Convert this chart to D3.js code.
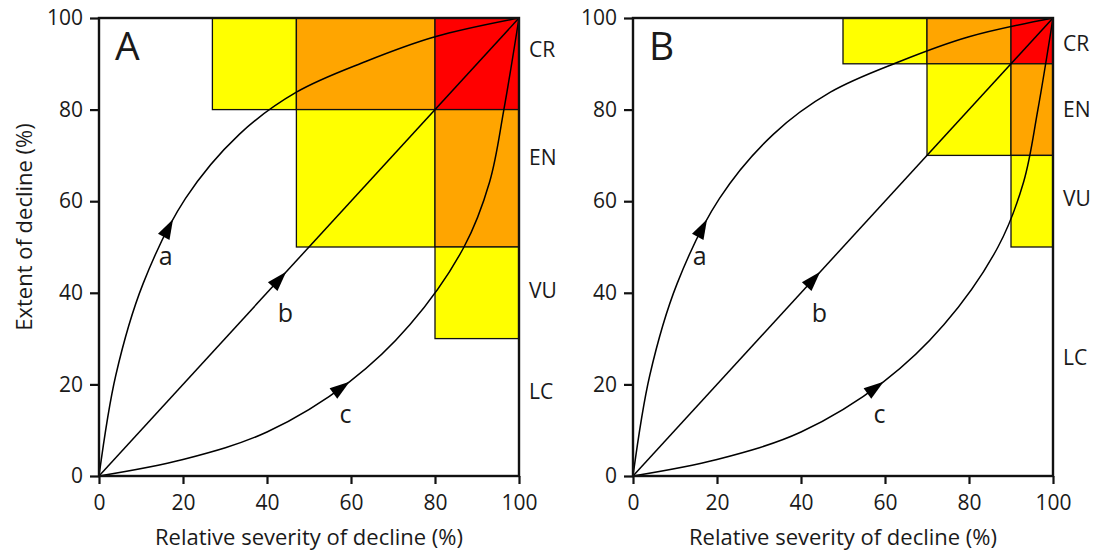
<!DOCTYPE html>
<html>
<head>
<meta charset="utf-8">
<script src="https://cdn.jsdelivr.net/npm/d3@7"></script>
<style>
  body { margin: 0; background: #fff; }
  text { font-family: "Open Sans", "Noto Sans", sans-serif; fill: #1a1a1a; }
</style>
</head>
<body>
<script>
// tick values on both axes
var ticks = [0, 20, 40, 60, 80, 100];
var categories = ["CR", "EN", "VU", "LC"];

// where the category names sit along the extent axis (%)
var labelYA = [93.3, 69.6, 40.7, 18.5];
var labelYB = [94.6, 80.2, 60.7, 25.9];

// threshold cells: severity range, extent range, category
var cellsA = [
	{ sev: [27, 47], ext: [80, 100], cat: "VU" },
	{ sev: [47, 80], ext: [80, 100], cat: "EN" },
	{ sev: [80, 100], ext: [80, 100], cat: "CR" },
	{ sev: [47, 80], ext: [50, 80], cat: "VU" },
	{ sev: [80, 100], ext: [50, 80], cat: "EN" },
	{ sev: [80, 100], ext: [30, 50], cat: "VU" }
];
var cellsB = [
	{ sev: [50, 70], ext: [90, 100], cat: "VU" },
	{ sev: [70, 90], ext: [90, 100], cat: "EN" },
	{ sev: [90, 100], ext: [90, 100], cat: "CR" },
	{ sev: [70, 90], ext: [70, 90], cat: "VU" },
	{ sev: [90, 100], ext: [70, 90], cat: "EN" },
	{ sev: [90, 100], ext: [50, 70], cat: "VU" }
];

// decline trajectories [severity, extent]
var pathA = [[0, 0], [4, 22], [10.5, 42], [20.6, 60.6], [33.4, 74.6], [47, 83.8], [63.5, 90.5], [80, 95.9], [100, 100]];
var pathB = [[0, 0], [100, 100]];
var pathC = [[0, 0], [20, 3.6], [40, 9.6], [59.7, 20.6], [74, 33], [86.9, 50], [93, 64.2], [96.4, 80], [100, 100]];
var curveNames = ["a", "b", "c"];
var arrowTips = [[17.2, 56.3], [44.6, 44.6], [59.7, 20.6]];
var curveLabels = [[15.9, 48.3], [44.4, 35.7], [58.7, 13.8]];

var w = 1099;
var h = 554;
var pw = 420, ph = 458, marginTop = 18;

var color = d3.scaleOrdinal()
	.domain(["CR", "EN", "VU"])
	.range(["#ff0000", "#ffa500", "#ffff00"]);

var svg = d3.select("body")
	.append("svg")
	.attr("width", w)
	.attr("height", h);

function drawPanel(left, cells, labelY, letter, yTitle) {
	var x = d3.scaleLinear().domain([0, 100]).range([0, pw]);
	var y = d3.scaleLinear().domain([0, 100]).range([ph, 0]);
	var g = svg.append("g").attr("transform", "translate(" + left + "," + marginTop + ")");

	g.selectAll("rect.cell")
		.data(cells)
		.enter()
		.append("rect")
		.attr("class", "cell")
		.attr("x", function(d) { return x(d.sev[0]); })
		.attr("y", function(d) { return y(d.ext[1]); })
		.attr("width", function(d) { return x(d.sev[1]) - x(d.sev[0]); })
		.attr("height", function(d) { return y(d.ext[0]) - y(d.ext[1]); })
		.attr("fill", function(d) { return color(d.cat); })
		.attr("stroke", "#111")
		.attr("stroke-width", 1.3);

	var line = d3.line()
		.x(function(d) { return x(d[0]); })
		.y(function(d) { return y(d[1]); })
		.curve(d3.curveCatmullRom.alpha(0.5));
	var paths = g.selectAll("path.traj")
		.data([pathA, pathB, pathC])
		.enter()
		.append("path")
		.attr("class", "traj")
		.attr("d", line)
		.attr("fill", "none")
		.attr("stroke", "#000")
		.attr("stroke-width", 1.5);

	// arrowheads sit on the curve, pointing along it
	paths.each(function(d, i) {
		var node = this;
		var len = node.getTotalLength();
		var tx = x(arrowTips[i][0]), ty = y(arrowTips[i][1]);
		var best = 0, bestD = Infinity;
		for (var l = 0; l <= len; l += 0.5) {
			var p = node.getPointAtLength(l);
			var dd = (p.x - tx) * (p.x - tx) + (p.y - ty) * (p.y - ty);
			if (dd < bestD) { bestD = dd; best = l; }
		}
		var tip = node.getPointAtLength(best);
		var back = node.getPointAtLength(Math.max(0, best - 20));
		var dx = tip.x - back.x, dy = tip.y - back.y;
		var n = Math.sqrt(dx * dx + dy * dy);
		dx /= n; dy /= n;
		var bx = tip.x - dx * 20, by = tip.y - dy * 20;
		var pts = [[tip.x, tip.y], [bx - dy * 6.5, by + dx * 6.5], [bx + dy * 6.5, by - dx * 6.5]];
		g.append("polygon")
			.attr("points", pts.map(function(p) { return p.join(","); }).join(" "))
			.attr("fill", "#000");
	});

	g.selectAll("text.cname")
		.data(curveNames)
		.enter()
		.append("text")
		.attr("class", "cname")
		.attr("x", function(d, i) { return x(curveLabels[i][0]); })
		.attr("y", function(d, i) { return y(curveLabels[i][1]); })
		.attr("text-anchor", "middle")
		.attr("dominant-baseline", "central")
		.attr("font-size", 25)
		.text(function(d) { return d; });

	// frame
	g.append("rect")
		.attr("width", pw)
		.attr("height", ph)
		.attr("fill", "none")
		.attr("stroke", "#111")
		.attr("stroke-width", 2.4);

	var ax = g.append("g")
		.attr("transform", "translate(0," + ph + ")")
		.call(d3.axisBottom(x).tickValues(ticks).tickSize(8).tickPadding(11));
	var ay = g.append("g")
		.call(d3.axisLeft(y).tickValues(ticks).tickSize(9).tickPadding(7));
	[ax, ay].forEach(function(a) {
		a.select(".domain").remove();
		a.selectAll(".tick line").attr("stroke", "#111").attr("stroke-width", 2.2);
		a.selectAll(".tick text")
			.attr("font-size", 21)
			.attr("font-family", "Open Sans, Noto Sans, sans-serif")
			.attr("fill", "#1a1a1a");
	});

	g.selectAll("text.cat")
		.data(categories)
		.enter()
		.append("text")
		.attr("class", "cat")
		.attr("x", pw + 10)
		.attr("y", function(d, i) { return y(labelY[i]); })
		.attr("dominant-baseline", "central")
		.attr("font-size", 21)
		.text(function(d) { return d; });

	g.append("text")
		.attr("x", 16)
		.attr("y", 42)
		.attr("font-size", 39)
		.text(letter);

	g.append("text")
		.attr("x", pw / 2)
		.attr("y", ph + 69)
		.attr("text-anchor", "middle")
		.attr("font-size", 22)
		.text("Relative severity of decline (%)");

	if (yTitle) {
		g.append("text")
			.attr("transform", "translate(" + (23 - left) + "," + (ph / 2 - 20) + ") rotate(-90)")
			.attr("text-anchor", "middle")
			.attr("dominant-baseline", "central")
			.attr("font-size", 22)
			.text("Extent of decline (%)");
	}
}

drawPanel(99, cellsA, labelYA, "A", true);
drawPanel(633, cellsB, labelYB, "B", false);
</script>
</body>
</html>
